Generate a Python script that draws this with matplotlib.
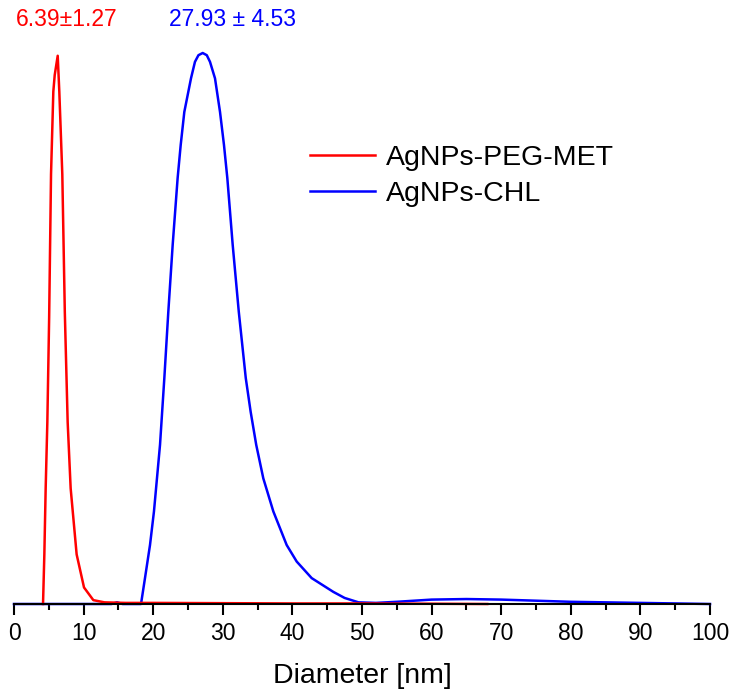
import numpy as np
import matplotlib
matplotlib.use("Agg")
import matplotlib.pyplot as plt
from matplotlib.ticker import MultipleLocator

plt.rcParams['font.family'] = ['Liberation Sans', 'DejaVu Sans']

# size distributions (normalised intensity)
red_x = [4.17, 4.36, 4.55, 4.79, 5.05, 5.32, 5.65, 5.85, 6.28, 6.51, 6.94, 7.3, 7.71,
         8.14, 9.0, 10.06, 11.4, 13.0, 16.0, 20.0, 30.0, 40.0, 50.0, 60.0, 68.0]
red_y = [0.0, 0.09, 0.21, 0.33, 0.52, 0.78, 0.93, 0.96, 0.995, 0.93, 0.78, 0.53, 0.33,
         0.21, 0.09, 0.03, 0.007, 0.003, 0.002, 0.002, 0.0015, 0.001, 0.001, 0.0005, 0.0]

blue_x = [0, 5, 10, 14, 14.8, 15.6, 18.25, 18.82, 19.54, 20.11, 20.98, 21.6, 22.17,
          22.8, 23.51, 23.95, 24.47, 25.43, 26.0, 26.5, 27.11, 27.7, 28.16, 28.88, 29.6,
          30.17, 30.65, 31.42, 32.3, 33.3, 34.0, 34.8, 35.82, 37.26, 39.18, 40.62,
          42.77, 45.88, 47.5, 49.5, 52, 55, 60, 65, 70, 75, 80, 85, 90, 95, 100]
blue_y = [0, 0, 0, 0, 0.003, 0, 0, 0.047, 0.107, 0.168, 0.289, 0.41, 0.53,
          0.652, 0.773, 0.833, 0.893, 0.954, 0.984, 0.996, 1.0, 0.996, 0.984, 0.954, 0.893,
          0.833, 0.773, 0.652, 0.53, 0.41, 0.349, 0.289, 0.228, 0.168, 0.107, 0.077,
          0.047, 0.022, 0.011, 0.003, 0.002, 0.004, 0.008, 0.009, 0.008, 0.006, 0.004,
          0.003, 0.002, 0.001, 0.0]

labels = ['AgNPs-PEG-MET', 'AgNPs-CHL']
red_note = '6.39\u00b11.27'
blue_note = '27.93 \u00b1 4.53'

fig = plt.figure(figsize=(7.35, 6.99), dpi=100)
ax = fig.add_axes([14/735, 95/699, 696/735, 551/699])

lb, = ax.plot(blue_x, blue_y, color='#0000ff', lw=1.8, clip_on=False, label=labels[1])
lr, = ax.plot(red_x, red_y, color='#ff0000', lw=1.8, clip_on=False, label=labels[0])

ax.set_xlim(0, 100)
ax.set_ylim(0, 1.0)

for s in ['left', 'right', 'top']:
    ax.spines[s].set_visible(False)
ax.spines['bottom'].set_linewidth(1.5)
ax.set_yticks([])
ax.xaxis.set_major_locator(MultipleLocator(10))
ax.xaxis.set_minor_locator(MultipleLocator(5))
ax.tick_params(axis='x', which='major', direction='out', length=8, width=1.5,
               labelsize=16.5, pad=5)
ax.tick_params(axis='x', which='minor', direction='out', length=4.5, width=1.5)
ax.set_xlabel('Diameter [nm]', fontsize=20.5, labelpad=13)

ax.text(7.6, 1.0 + 34/551, red_note, color='#ff0000', fontsize=16.5,
        ha='center', va='center', transform=ax.get_xaxis_transform())
ax.text(31.4, 1.0 + 34/551, blue_note, color='#0000ff', fontsize=16.5,
        ha='center', va='center', transform=ax.get_xaxis_transform())

ax.legend([lr, lb], labels, loc='upper left', bbox_to_anchor=(310/735, 1 - 145/699),
          bbox_transform=fig.transFigure, frameon=False, fontsize=20.5,
          handlelength=2.3, handletextpad=0.35, labelspacing=0.36,
          borderpad=0, borderaxespad=0)

plt.savefig('out.png', dpi=100)
